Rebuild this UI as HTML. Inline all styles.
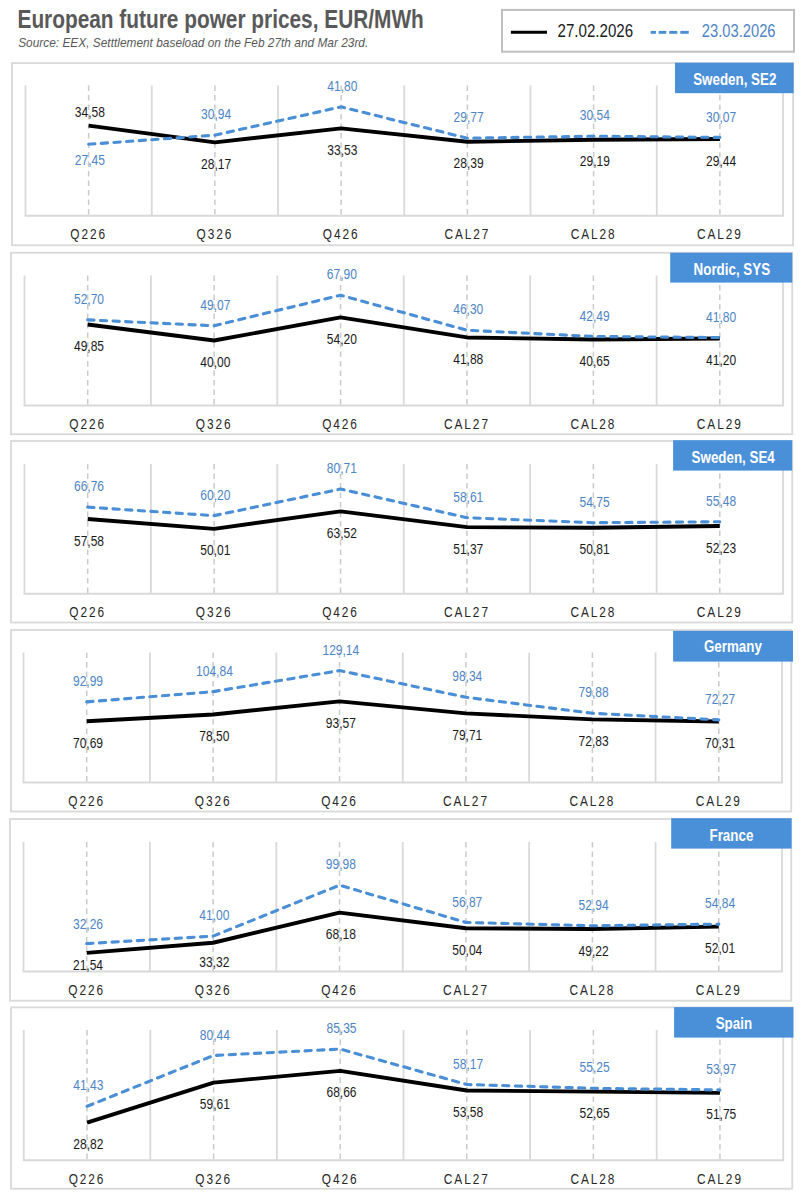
<!DOCTYPE html><html><head><meta charset="utf-8"><style>html,body{margin:0;padding:0;background:#fff;}svg{display:block;}</style></head><body>
<svg width="805" height="1200" viewBox="0 0 805 1200" font-family="Liberation Sans, sans-serif">
<text transform="translate(17.5,27.7) scale(0.834,1)" font-size="25" font-weight="bold" fill="#595959">European future power prices, EUR/MWh</text>
<text transform="translate(18.2,46.6) scale(0.983,1)" font-size="12.1" font-style="italic" fill="#595959">Source: EEX, Setttlement baseload on the Feb 27th and Mar 23rd.</text>
<rect x="502" y="9.9" width="292" height="41.8" fill="#fff" stroke="#bfbfbf" stroke-width="2"/>
<line x1="510.9" y1="32.3" x2="547" y2="32.3" stroke="#000" stroke-width="3"/>
<text transform="translate(557.5,36.7) scale(0.83,1)" font-size="18.2" fill="#1a1a1a">27.02.2026</text>
<rect x="650.7" y="30.9" width="5.2" height="2.9" fill="#4a8fd6"/>
<rect x="658.7" y="30.9" width="7.6" height="2.9" fill="#4a8fd6"/>
<rect x="669.3" y="30.9" width="8.0" height="2.9" fill="#4a8fd6"/>
<rect x="680.3" y="30.9" width="8.4" height="2.9" fill="#4a8fd6"/>
<text transform="translate(701.8,36.8) scale(0.81,1)" font-size="18.2" fill="#4d84c6">23.03.2026</text>
<rect x="12" y="63.1" width="781.10" height="182.15" fill="#fff" stroke="#d9d9d9" stroke-width="1.8"/>
<line x1="25.50" y1="85.5" x2="25.50" y2="215.75" stroke="#d9d9d9" stroke-width="1.8"/>
<line x1="151.75" y1="85.5" x2="151.75" y2="215.75" stroke="#d9d9d9" stroke-width="1.8"/>
<line x1="278.00" y1="85.5" x2="278.00" y2="215.75" stroke="#d9d9d9" stroke-width="1.8"/>
<line x1="404.25" y1="85.5" x2="404.25" y2="215.75" stroke="#d9d9d9" stroke-width="1.8"/>
<line x1="530.50" y1="85.5" x2="530.50" y2="215.75" stroke="#d9d9d9" stroke-width="1.8"/>
<line x1="656.75" y1="85.5" x2="656.75" y2="215.75" stroke="#d9d9d9" stroke-width="1.8"/>
<line x1="783.00" y1="85.5" x2="783.00" y2="215.75" stroke="#d9d9d9" stroke-width="1.8"/>
<line x1="24.60" y1="215.75" x2="783.90" y2="215.75" stroke="#d9d9d9" stroke-width="1.8"/>
<line x1="88.62" y1="85.5" x2="88.62" y2="215.75" stroke="#cbcbcb" stroke-width="1.5" stroke-dasharray="5.4,4.1"/>
<line x1="214.88" y1="85.5" x2="214.88" y2="215.75" stroke="#cbcbcb" stroke-width="1.5" stroke-dasharray="5.4,4.1"/>
<line x1="341.12" y1="85.5" x2="341.12" y2="215.75" stroke="#cbcbcb" stroke-width="1.5" stroke-dasharray="5.4,4.1"/>
<line x1="467.38" y1="85.5" x2="467.38" y2="215.75" stroke="#cbcbcb" stroke-width="1.5" stroke-dasharray="5.4,4.1"/>
<line x1="593.62" y1="85.5" x2="593.62" y2="215.75" stroke="#cbcbcb" stroke-width="1.5" stroke-dasharray="5.4,4.1"/>
<line x1="719.88" y1="85.5" x2="719.88" y2="215.75" stroke="#cbcbcb" stroke-width="1.5" stroke-dasharray="5.4,4.1"/>
<polyline points="88.62,125.67 214.88,142.37 341.12,128.40 467.38,141.79 593.62,139.71 719.88,139.06" fill="none" stroke="#000" stroke-width="3.9" stroke-linejoin="round"/>
<polyline points="88.62,144.24 214.88,135.15 341.12,106.86 467.38,138.20 593.62,136.19 719.88,137.42" fill="none" stroke="#4a8fd6" stroke-width="3.1" stroke-dasharray="6.3,6.36" stroke-linecap="round" stroke-linejoin="round"/>
<text transform="translate(89.92,116.70) scale(0.86,1)" text-anchor="middle" font-size="14" fill="#1a1a1a">34,58</text>
<text transform="translate(89.92,165.00) scale(0.86,1)" text-anchor="middle" font-size="14" fill="#4d84c6">27,45</text>
<text transform="translate(88.62,239.10) scale(0.79,1)" text-anchor="middle" font-size="15" letter-spacing="2.45" fill="#262626">Q226</text>
<text transform="translate(216.18,168.97) scale(0.86,1)" text-anchor="middle" font-size="14" fill="#1a1a1a">28,17</text>
<text transform="translate(216.18,119.35) scale(0.86,1)" text-anchor="middle" font-size="14" fill="#4d84c6">30,94</text>
<text transform="translate(214.88,239.10) scale(0.79,1)" text-anchor="middle" font-size="15" letter-spacing="2.45" fill="#262626">Q326</text>
<text transform="translate(342.43,155.00) scale(0.86,1)" text-anchor="middle" font-size="14" fill="#1a1a1a">33,53</text>
<text transform="translate(342.43,91.06) scale(0.86,1)" text-anchor="middle" font-size="14" fill="#4d84c6">41,80</text>
<text transform="translate(341.12,239.10) scale(0.79,1)" text-anchor="middle" font-size="15" letter-spacing="2.45" fill="#262626">Q426</text>
<text transform="translate(468.68,168.39) scale(0.86,1)" text-anchor="middle" font-size="14" fill="#1a1a1a">28,39</text>
<text transform="translate(468.68,122.40) scale(0.86,1)" text-anchor="middle" font-size="14" fill="#4d84c6">29,77</text>
<text transform="translate(467.38,239.10) scale(0.79,1)" text-anchor="middle" font-size="15" letter-spacing="2.45" fill="#262626">CAL27</text>
<text transform="translate(594.92,166.31) scale(0.86,1)" text-anchor="middle" font-size="14" fill="#1a1a1a">29,19</text>
<text transform="translate(594.92,120.39) scale(0.86,1)" text-anchor="middle" font-size="14" fill="#4d84c6">30,54</text>
<text transform="translate(593.62,239.10) scale(0.79,1)" text-anchor="middle" font-size="15" letter-spacing="2.45" fill="#262626">CAL28</text>
<text transform="translate(721.17,165.66) scale(0.86,1)" text-anchor="middle" font-size="14" fill="#1a1a1a">29,44</text>
<text transform="translate(721.17,121.62) scale(0.86,1)" text-anchor="middle" font-size="14" fill="#4d84c6">30,07</text>
<text transform="translate(719.88,239.10) scale(0.79,1)" text-anchor="middle" font-size="15" letter-spacing="2.45" fill="#262626">CAL29</text>
<rect x="675" y="62.7" width="118.70" height="30.50" fill="#4a90d9"/>
<text transform="translate(734.75,84.7) scale(0.815,1)" text-anchor="middle" font-size="16.4" font-weight="bold" fill="#fff">Sweden, SE2</text>
<rect x="11" y="252.75" width="781.25" height="181.50" fill="#fff" stroke="#d9d9d9" stroke-width="1.8"/>
<line x1="24.50" y1="275.5" x2="24.50" y2="405.5" stroke="#d9d9d9" stroke-width="1.8"/>
<line x1="150.92" y1="275.5" x2="150.92" y2="405.5" stroke="#d9d9d9" stroke-width="1.8"/>
<line x1="277.33" y1="275.5" x2="277.33" y2="405.5" stroke="#d9d9d9" stroke-width="1.8"/>
<line x1="403.75" y1="275.5" x2="403.75" y2="405.5" stroke="#d9d9d9" stroke-width="1.8"/>
<line x1="530.17" y1="275.5" x2="530.17" y2="405.5" stroke="#d9d9d9" stroke-width="1.8"/>
<line x1="656.58" y1="275.5" x2="656.58" y2="405.5" stroke="#d9d9d9" stroke-width="1.8"/>
<line x1="783.00" y1="275.5" x2="783.00" y2="405.5" stroke="#d9d9d9" stroke-width="1.8"/>
<line x1="23.60" y1="405.5" x2="783.90" y2="405.5" stroke="#d9d9d9" stroke-width="1.8"/>
<line x1="87.71" y1="275.5" x2="87.71" y2="405.5" stroke="#cbcbcb" stroke-width="1.5" stroke-dasharray="5.4,4.1"/>
<line x1="214.12" y1="275.5" x2="214.12" y2="405.5" stroke="#cbcbcb" stroke-width="1.5" stroke-dasharray="5.4,4.1"/>
<line x1="340.54" y1="275.5" x2="340.54" y2="405.5" stroke="#cbcbcb" stroke-width="1.5" stroke-dasharray="5.4,4.1"/>
<line x1="466.96" y1="275.5" x2="466.96" y2="405.5" stroke="#cbcbcb" stroke-width="1.5" stroke-dasharray="5.4,4.1"/>
<line x1="593.38" y1="275.5" x2="593.38" y2="405.5" stroke="#cbcbcb" stroke-width="1.5" stroke-dasharray="5.4,4.1"/>
<line x1="719.79" y1="275.5" x2="719.79" y2="405.5" stroke="#cbcbcb" stroke-width="1.5" stroke-dasharray="5.4,4.1"/>
<polyline points="87.71,324.49 214.12,340.50 340.54,317.43 466.96,337.44 593.38,339.44 719.79,338.55" fill="none" stroke="#000" stroke-width="3.9" stroke-linejoin="round"/>
<polyline points="87.71,319.86 214.12,325.76 340.54,295.16 466.96,330.26 593.38,336.45 719.79,337.57" fill="none" stroke="#4a8fd6" stroke-width="3.1" stroke-dasharray="6.3,6.36" stroke-linecap="round" stroke-linejoin="round"/>
<text transform="translate(89.01,351.09) scale(0.86,1)" text-anchor="middle" font-size="14" fill="#1a1a1a">49,85</text>
<text transform="translate(89.01,304.06) scale(0.86,1)" text-anchor="middle" font-size="14" fill="#4d84c6">52,70</text>
<text transform="translate(87.71,428.85) scale(0.79,1)" text-anchor="middle" font-size="15" letter-spacing="2.45" fill="#262626">Q226</text>
<text transform="translate(215.43,367.10) scale(0.86,1)" text-anchor="middle" font-size="14" fill="#1a1a1a">40,00</text>
<text transform="translate(215.43,309.96) scale(0.86,1)" text-anchor="middle" font-size="14" fill="#4d84c6">49,07</text>
<text transform="translate(214.12,428.85) scale(0.79,1)" text-anchor="middle" font-size="15" letter-spacing="2.45" fill="#262626">Q326</text>
<text transform="translate(341.84,344.03) scale(0.86,1)" text-anchor="middle" font-size="14" fill="#1a1a1a">54,20</text>
<text transform="translate(341.84,279.36) scale(0.86,1)" text-anchor="middle" font-size="14" fill="#4d84c6">67,90</text>
<text transform="translate(340.54,428.85) scale(0.79,1)" text-anchor="middle" font-size="15" letter-spacing="2.45" fill="#262626">Q426</text>
<text transform="translate(468.26,364.05) scale(0.86,1)" text-anchor="middle" font-size="14" fill="#1a1a1a">41,88</text>
<text transform="translate(468.26,314.46) scale(0.86,1)" text-anchor="middle" font-size="14" fill="#4d84c6">46,30</text>
<text transform="translate(466.96,428.85) scale(0.79,1)" text-anchor="middle" font-size="15" letter-spacing="2.45" fill="#262626">CAL27</text>
<text transform="translate(594.67,366.04) scale(0.86,1)" text-anchor="middle" font-size="14" fill="#1a1a1a">40,65</text>
<text transform="translate(594.67,320.65) scale(0.86,1)" text-anchor="middle" font-size="14" fill="#4d84c6">42,49</text>
<text transform="translate(593.38,428.85) scale(0.79,1)" text-anchor="middle" font-size="15" letter-spacing="2.45" fill="#262626">CAL28</text>
<text transform="translate(721.09,365.15) scale(0.86,1)" text-anchor="middle" font-size="14" fill="#1a1a1a">41,20</text>
<text transform="translate(721.09,321.77) scale(0.86,1)" text-anchor="middle" font-size="14" fill="#4d84c6">41,80</text>
<text transform="translate(719.79,428.85) scale(0.79,1)" text-anchor="middle" font-size="15" letter-spacing="2.45" fill="#262626">CAL29</text>
<rect x="670.2" y="252.7" width="122.10" height="29.90" fill="#4a90d9"/>
<text transform="translate(731.85,275.4) scale(0.815,1)" text-anchor="middle" font-size="16.4" font-weight="bold" fill="#fff">Nordic, SYS</text>
<rect x="11" y="441" width="781.25" height="181.50" fill="#fff" stroke="#d9d9d9" stroke-width="1.8"/>
<line x1="24.50" y1="464" x2="24.50" y2="593.75" stroke="#d9d9d9" stroke-width="1.8"/>
<line x1="150.92" y1="464" x2="150.92" y2="593.75" stroke="#d9d9d9" stroke-width="1.8"/>
<line x1="277.33" y1="464" x2="277.33" y2="593.75" stroke="#d9d9d9" stroke-width="1.8"/>
<line x1="403.75" y1="464" x2="403.75" y2="593.75" stroke="#d9d9d9" stroke-width="1.8"/>
<line x1="530.17" y1="464" x2="530.17" y2="593.75" stroke="#d9d9d9" stroke-width="1.8"/>
<line x1="656.58" y1="464" x2="656.58" y2="593.75" stroke="#d9d9d9" stroke-width="1.8"/>
<line x1="783.00" y1="464" x2="783.00" y2="593.75" stroke="#d9d9d9" stroke-width="1.8"/>
<line x1="23.60" y1="593.75" x2="783.90" y2="593.75" stroke="#d9d9d9" stroke-width="1.8"/>
<line x1="87.71" y1="464" x2="87.71" y2="593.75" stroke="#cbcbcb" stroke-width="1.5" stroke-dasharray="5.4,4.1"/>
<line x1="214.12" y1="464" x2="214.12" y2="593.75" stroke="#cbcbcb" stroke-width="1.5" stroke-dasharray="5.4,4.1"/>
<line x1="340.54" y1="464" x2="340.54" y2="593.75" stroke="#cbcbcb" stroke-width="1.5" stroke-dasharray="5.4,4.1"/>
<line x1="466.96" y1="464" x2="466.96" y2="593.75" stroke="#cbcbcb" stroke-width="1.5" stroke-dasharray="5.4,4.1"/>
<line x1="593.38" y1="464" x2="593.38" y2="593.75" stroke="#cbcbcb" stroke-width="1.5" stroke-dasharray="5.4,4.1"/>
<line x1="719.79" y1="464" x2="719.79" y2="593.75" stroke="#cbcbcb" stroke-width="1.5" stroke-dasharray="5.4,4.1"/>
<polyline points="87.71,519.04 214.12,528.86 340.54,511.33 466.96,527.10 593.38,527.82 719.79,525.98" fill="none" stroke="#000" stroke-width="3.9" stroke-linejoin="round"/>
<polyline points="87.71,507.13 214.12,515.64 340.54,489.03 466.96,517.70 593.38,522.71 719.79,521.76" fill="none" stroke="#4a8fd6" stroke-width="3.1" stroke-dasharray="6.3,6.36" stroke-linecap="round" stroke-linejoin="round"/>
<text transform="translate(89.01,545.64) scale(0.86,1)" text-anchor="middle" font-size="14" fill="#1a1a1a">57,58</text>
<text transform="translate(89.01,491.33) scale(0.86,1)" text-anchor="middle" font-size="14" fill="#4d84c6">66,76</text>
<text transform="translate(87.71,617.10) scale(0.79,1)" text-anchor="middle" font-size="15" letter-spacing="2.45" fill="#262626">Q226</text>
<text transform="translate(215.43,555.46) scale(0.86,1)" text-anchor="middle" font-size="14" fill="#1a1a1a">50,01</text>
<text transform="translate(215.43,499.84) scale(0.86,1)" text-anchor="middle" font-size="14" fill="#4d84c6">60,20</text>
<text transform="translate(214.12,617.10) scale(0.79,1)" text-anchor="middle" font-size="15" letter-spacing="2.45" fill="#262626">Q326</text>
<text transform="translate(341.84,537.93) scale(0.86,1)" text-anchor="middle" font-size="14" fill="#1a1a1a">63,52</text>
<text transform="translate(341.84,473.23) scale(0.86,1)" text-anchor="middle" font-size="14" fill="#4d84c6">80,71</text>
<text transform="translate(340.54,617.10) scale(0.79,1)" text-anchor="middle" font-size="15" letter-spacing="2.45" fill="#262626">Q426</text>
<text transform="translate(468.26,553.70) scale(0.86,1)" text-anchor="middle" font-size="14" fill="#1a1a1a">51,37</text>
<text transform="translate(468.26,501.90) scale(0.86,1)" text-anchor="middle" font-size="14" fill="#4d84c6">58,61</text>
<text transform="translate(466.96,617.10) scale(0.79,1)" text-anchor="middle" font-size="15" letter-spacing="2.45" fill="#262626">CAL27</text>
<text transform="translate(594.67,554.42) scale(0.86,1)" text-anchor="middle" font-size="14" fill="#1a1a1a">50,81</text>
<text transform="translate(594.67,506.91) scale(0.86,1)" text-anchor="middle" font-size="14" fill="#4d84c6">54,75</text>
<text transform="translate(593.38,617.10) scale(0.79,1)" text-anchor="middle" font-size="15" letter-spacing="2.45" fill="#262626">CAL28</text>
<text transform="translate(721.09,552.58) scale(0.86,1)" text-anchor="middle" font-size="14" fill="#1a1a1a">52,23</text>
<text transform="translate(721.09,505.96) scale(0.86,1)" text-anchor="middle" font-size="14" fill="#4d84c6">55,48</text>
<text transform="translate(719.79,617.10) scale(0.79,1)" text-anchor="middle" font-size="15" letter-spacing="2.45" fill="#262626">CAL29</text>
<rect x="673.1" y="440.2" width="119.10" height="30.40" fill="#4a90d9"/>
<text transform="translate(733.15,462.9) scale(0.815,1)" text-anchor="middle" font-size="16.4" font-weight="bold" fill="#fff">Sweden, SE4</text>
<rect x="11" y="630" width="780.25" height="181.50" fill="#fff" stroke="#d9d9d9" stroke-width="1.8"/>
<line x1="23.50" y1="652.5" x2="23.50" y2="782.5" stroke="#d9d9d9" stroke-width="1.8"/>
<line x1="149.92" y1="652.5" x2="149.92" y2="782.5" stroke="#d9d9d9" stroke-width="1.8"/>
<line x1="276.33" y1="652.5" x2="276.33" y2="782.5" stroke="#d9d9d9" stroke-width="1.8"/>
<line x1="402.75" y1="652.5" x2="402.75" y2="782.5" stroke="#d9d9d9" stroke-width="1.8"/>
<line x1="529.17" y1="652.5" x2="529.17" y2="782.5" stroke="#d9d9d9" stroke-width="1.8"/>
<line x1="655.58" y1="652.5" x2="655.58" y2="782.5" stroke="#d9d9d9" stroke-width="1.8"/>
<line x1="782.00" y1="652.5" x2="782.00" y2="782.5" stroke="#d9d9d9" stroke-width="1.8"/>
<line x1="22.60" y1="782.5" x2="782.90" y2="782.5" stroke="#d9d9d9" stroke-width="1.8"/>
<line x1="86.71" y1="652.5" x2="86.71" y2="782.5" stroke="#cbcbcb" stroke-width="1.5" stroke-dasharray="5.4,4.1"/>
<line x1="213.12" y1="652.5" x2="213.12" y2="782.5" stroke="#cbcbcb" stroke-width="1.5" stroke-dasharray="5.4,4.1"/>
<line x1="339.54" y1="652.5" x2="339.54" y2="782.5" stroke="#cbcbcb" stroke-width="1.5" stroke-dasharray="5.4,4.1"/>
<line x1="465.96" y1="652.5" x2="465.96" y2="782.5" stroke="#cbcbcb" stroke-width="1.5" stroke-dasharray="5.4,4.1"/>
<line x1="592.38" y1="652.5" x2="592.38" y2="782.5" stroke="#cbcbcb" stroke-width="1.5" stroke-dasharray="5.4,4.1"/>
<line x1="718.79" y1="652.5" x2="718.79" y2="782.5" stroke="#cbcbcb" stroke-width="1.5" stroke-dasharray="5.4,4.1"/>
<polyline points="86.71,721.24 213.12,714.47 339.54,701.41 465.96,713.42 592.38,719.38 718.79,721.56" fill="none" stroke="#000" stroke-width="3.9" stroke-linejoin="round"/>
<polyline points="86.71,701.91 213.12,691.64 339.54,670.58 465.96,697.27 592.38,713.27 718.79,719.87" fill="none" stroke="#4a8fd6" stroke-width="3.1" stroke-dasharray="6.3,6.36" stroke-linecap="round" stroke-linejoin="round"/>
<text transform="translate(88.01,747.84) scale(0.86,1)" text-anchor="middle" font-size="14" fill="#1a1a1a">70,69</text>
<text transform="translate(88.01,686.11) scale(0.86,1)" text-anchor="middle" font-size="14" fill="#4d84c6">92,99</text>
<text transform="translate(86.71,805.85) scale(0.79,1)" text-anchor="middle" font-size="15" letter-spacing="2.45" fill="#262626">Q226</text>
<text transform="translate(214.43,741.07) scale(0.86,1)" text-anchor="middle" font-size="14" fill="#1a1a1a">78,50</text>
<text transform="translate(214.43,675.84) scale(0.86,1)" text-anchor="middle" font-size="14" fill="#4d84c6">104,84</text>
<text transform="translate(213.12,805.85) scale(0.79,1)" text-anchor="middle" font-size="15" letter-spacing="2.45" fill="#262626">Q326</text>
<text transform="translate(340.84,728.01) scale(0.86,1)" text-anchor="middle" font-size="14" fill="#1a1a1a">93,57</text>
<text transform="translate(340.84,654.78) scale(0.86,1)" text-anchor="middle" font-size="14" fill="#4d84c6">129,14</text>
<text transform="translate(339.54,805.85) scale(0.79,1)" text-anchor="middle" font-size="15" letter-spacing="2.45" fill="#262626">Q426</text>
<text transform="translate(467.26,740.02) scale(0.86,1)" text-anchor="middle" font-size="14" fill="#1a1a1a">79,71</text>
<text transform="translate(467.26,681.47) scale(0.86,1)" text-anchor="middle" font-size="14" fill="#4d84c6">98,34</text>
<text transform="translate(465.96,805.85) scale(0.79,1)" text-anchor="middle" font-size="15" letter-spacing="2.45" fill="#262626">CAL27</text>
<text transform="translate(593.67,745.98) scale(0.86,1)" text-anchor="middle" font-size="14" fill="#1a1a1a">72,83</text>
<text transform="translate(593.67,697.47) scale(0.86,1)" text-anchor="middle" font-size="14" fill="#4d84c6">79,88</text>
<text transform="translate(592.38,805.85) scale(0.79,1)" text-anchor="middle" font-size="15" letter-spacing="2.45" fill="#262626">CAL28</text>
<text transform="translate(720.09,748.16) scale(0.86,1)" text-anchor="middle" font-size="14" fill="#1a1a1a">70,31</text>
<text transform="translate(720.09,704.07) scale(0.86,1)" text-anchor="middle" font-size="14" fill="#4d84c6">72,27</text>
<text transform="translate(718.79,805.85) scale(0.79,1)" text-anchor="middle" font-size="15" letter-spacing="2.45" fill="#262626">CAL29</text>
<rect x="673.1" y="630.8" width="119.90" height="30.80" fill="#4a90d9"/>
<text transform="translate(732.90,652.4) scale(0.815,1)" text-anchor="middle" font-size="16.4" font-weight="bold" fill="#fff">Germany</text>
<rect x="10" y="819" width="781.25" height="181.70" fill="#fff" stroke="#d9d9d9" stroke-width="1.8"/>
<line x1="23.50" y1="842" x2="23.50" y2="971.5" stroke="#d9d9d9" stroke-width="1.8"/>
<line x1="149.92" y1="842" x2="149.92" y2="971.5" stroke="#d9d9d9" stroke-width="1.8"/>
<line x1="276.33" y1="842" x2="276.33" y2="971.5" stroke="#d9d9d9" stroke-width="1.8"/>
<line x1="402.75" y1="842" x2="402.75" y2="971.5" stroke="#d9d9d9" stroke-width="1.8"/>
<line x1="529.17" y1="842" x2="529.17" y2="971.5" stroke="#d9d9d9" stroke-width="1.8"/>
<line x1="655.58" y1="842" x2="655.58" y2="971.5" stroke="#d9d9d9" stroke-width="1.8"/>
<line x1="782.00" y1="842" x2="782.00" y2="971.5" stroke="#d9d9d9" stroke-width="1.8"/>
<line x1="22.60" y1="971.5" x2="782.90" y2="971.5" stroke="#d9d9d9" stroke-width="1.8"/>
<line x1="86.71" y1="842" x2="86.71" y2="971.5" stroke="#cbcbcb" stroke-width="1.5" stroke-dasharray="5.4,4.1"/>
<line x1="213.12" y1="842" x2="213.12" y2="971.5" stroke="#cbcbcb" stroke-width="1.5" stroke-dasharray="5.4,4.1"/>
<line x1="339.54" y1="842" x2="339.54" y2="971.5" stroke="#cbcbcb" stroke-width="1.5" stroke-dasharray="5.4,4.1"/>
<line x1="465.96" y1="842" x2="465.96" y2="971.5" stroke="#cbcbcb" stroke-width="1.5" stroke-dasharray="5.4,4.1"/>
<line x1="592.38" y1="842" x2="592.38" y2="971.5" stroke="#cbcbcb" stroke-width="1.5" stroke-dasharray="5.4,4.1"/>
<line x1="718.79" y1="842" x2="718.79" y2="971.5" stroke="#cbcbcb" stroke-width="1.5" stroke-dasharray="5.4,4.1"/>
<polyline points="86.71,952.90 213.12,942.73 339.54,912.64 465.96,928.30 592.38,929.01 718.79,926.60" fill="none" stroke="#000" stroke-width="3.9" stroke-linejoin="round"/>
<polyline points="86.71,943.65 213.12,936.10 339.54,885.18 465.96,922.40 592.38,925.80 718.79,924.15" fill="none" stroke="#4a8fd6" stroke-width="3.1" stroke-dasharray="6.3,6.36" stroke-linecap="round" stroke-linejoin="round"/>
<text transform="translate(88.01,970.40) scale(0.86,1)" text-anchor="middle" font-size="14" fill="#1a1a1a">21,54</text>
<text transform="translate(88.01,928.70) scale(0.86,1)" text-anchor="middle" font-size="14" fill="#4d84c6">32,26</text>
<text transform="translate(86.71,994.85) scale(0.79,1)" text-anchor="middle" font-size="15" letter-spacing="2.45" fill="#262626">Q226</text>
<text transform="translate(214.43,966.50) scale(0.86,1)" text-anchor="middle" font-size="14" fill="#1a1a1a">33,32</text>
<text transform="translate(214.43,920.30) scale(0.86,1)" text-anchor="middle" font-size="14" fill="#4d84c6">41,00</text>
<text transform="translate(213.12,994.85) scale(0.79,1)" text-anchor="middle" font-size="15" letter-spacing="2.45" fill="#262626">Q326</text>
<text transform="translate(340.84,939.24) scale(0.86,1)" text-anchor="middle" font-size="14" fill="#1a1a1a">68,18</text>
<text transform="translate(340.84,869.38) scale(0.86,1)" text-anchor="middle" font-size="14" fill="#4d84c6">99,98</text>
<text transform="translate(339.54,994.85) scale(0.79,1)" text-anchor="middle" font-size="15" letter-spacing="2.45" fill="#262626">Q426</text>
<text transform="translate(467.26,954.90) scale(0.86,1)" text-anchor="middle" font-size="14" fill="#1a1a1a">50,04</text>
<text transform="translate(467.26,906.60) scale(0.86,1)" text-anchor="middle" font-size="14" fill="#4d84c6">56,87</text>
<text transform="translate(465.96,994.85) scale(0.79,1)" text-anchor="middle" font-size="15" letter-spacing="2.45" fill="#262626">CAL27</text>
<text transform="translate(593.67,955.61) scale(0.86,1)" text-anchor="middle" font-size="14" fill="#1a1a1a">49,22</text>
<text transform="translate(593.67,910.00) scale(0.86,1)" text-anchor="middle" font-size="14" fill="#4d84c6">52,94</text>
<text transform="translate(592.38,994.85) scale(0.79,1)" text-anchor="middle" font-size="15" letter-spacing="2.45" fill="#262626">CAL28</text>
<text transform="translate(720.09,953.20) scale(0.86,1)" text-anchor="middle" font-size="14" fill="#1a1a1a">52,01</text>
<text transform="translate(720.09,908.35) scale(0.86,1)" text-anchor="middle" font-size="14" fill="#4d84c6">54,84</text>
<text transform="translate(718.79,994.85) scale(0.79,1)" text-anchor="middle" font-size="15" letter-spacing="2.45" fill="#262626">CAL29</text>
<rect x="671.2" y="818.2" width="120.40" height="30.40" fill="#4a90d9"/>
<text transform="translate(731.40,840.9) scale(0.815,1)" text-anchor="middle" font-size="16.4" font-weight="bold" fill="#fff">France</text>
<rect x="11" y="1007.4" width="781.25" height="181.35" fill="#fff" stroke="#d9d9d9" stroke-width="1.8"/>
<line x1="23.75" y1="1030" x2="23.75" y2="1160.25" stroke="#d9d9d9" stroke-width="1.8"/>
<line x1="150.33" y1="1030" x2="150.33" y2="1160.25" stroke="#d9d9d9" stroke-width="1.8"/>
<line x1="276.92" y1="1030" x2="276.92" y2="1160.25" stroke="#d9d9d9" stroke-width="1.8"/>
<line x1="403.50" y1="1030" x2="403.50" y2="1160.25" stroke="#d9d9d9" stroke-width="1.8"/>
<line x1="530.08" y1="1030" x2="530.08" y2="1160.25" stroke="#d9d9d9" stroke-width="1.8"/>
<line x1="656.67" y1="1030" x2="656.67" y2="1160.25" stroke="#d9d9d9" stroke-width="1.8"/>
<line x1="783.25" y1="1030" x2="783.25" y2="1160.25" stroke="#d9d9d9" stroke-width="1.8"/>
<line x1="22.85" y1="1160.25" x2="784.15" y2="1160.25" stroke="#d9d9d9" stroke-width="1.8"/>
<line x1="87.04" y1="1030" x2="87.04" y2="1160.25" stroke="#cbcbcb" stroke-width="1.5" stroke-dasharray="5.4,4.1"/>
<line x1="213.62" y1="1030" x2="213.62" y2="1160.25" stroke="#cbcbcb" stroke-width="1.5" stroke-dasharray="5.4,4.1"/>
<line x1="340.21" y1="1030" x2="340.21" y2="1160.25" stroke="#cbcbcb" stroke-width="1.5" stroke-dasharray="5.4,4.1"/>
<line x1="466.79" y1="1030" x2="466.79" y2="1160.25" stroke="#cbcbcb" stroke-width="1.5" stroke-dasharray="5.4,4.1"/>
<line x1="593.38" y1="1030" x2="593.38" y2="1160.25" stroke="#cbcbcb" stroke-width="1.5" stroke-dasharray="5.4,4.1"/>
<line x1="719.96" y1="1030" x2="719.96" y2="1160.25" stroke="#cbcbcb" stroke-width="1.5" stroke-dasharray="5.4,4.1"/>
<polyline points="87.04,1122.71 213.62,1082.61 340.21,1070.82 466.79,1090.46 593.38,1091.67 719.96,1092.85" fill="none" stroke="#000" stroke-width="3.9" stroke-linejoin="round"/>
<polyline points="87.04,1106.29 213.62,1055.48 340.21,1049.08 466.79,1084.48 593.38,1088.29 719.96,1089.95" fill="none" stroke="#4a8fd6" stroke-width="3.1" stroke-dasharray="6.3,6.36" stroke-linecap="round" stroke-linejoin="round"/>
<text transform="translate(88.34,1149.31) scale(0.86,1)" text-anchor="middle" font-size="14" fill="#1a1a1a">28,82</text>
<text transform="translate(88.34,1090.49) scale(0.86,1)" text-anchor="middle" font-size="14" fill="#4d84c6">41,43</text>
<text transform="translate(87.04,1183.60) scale(0.79,1)" text-anchor="middle" font-size="15" letter-spacing="2.45" fill="#262626">Q226</text>
<text transform="translate(214.93,1109.21) scale(0.86,1)" text-anchor="middle" font-size="14" fill="#1a1a1a">59,61</text>
<text transform="translate(214.93,1039.68) scale(0.86,1)" text-anchor="middle" font-size="14" fill="#4d84c6">80,44</text>
<text transform="translate(213.62,1183.60) scale(0.79,1)" text-anchor="middle" font-size="15" letter-spacing="2.45" fill="#262626">Q326</text>
<text transform="translate(341.51,1097.42) scale(0.86,1)" text-anchor="middle" font-size="14" fill="#1a1a1a">68,66</text>
<text transform="translate(341.51,1033.28) scale(0.86,1)" text-anchor="middle" font-size="14" fill="#4d84c6">85,35</text>
<text transform="translate(340.21,1183.60) scale(0.79,1)" text-anchor="middle" font-size="15" letter-spacing="2.45" fill="#262626">Q426</text>
<text transform="translate(468.09,1117.06) scale(0.86,1)" text-anchor="middle" font-size="14" fill="#1a1a1a">53,58</text>
<text transform="translate(468.09,1068.68) scale(0.86,1)" text-anchor="middle" font-size="14" fill="#4d84c6">58,17</text>
<text transform="translate(466.79,1183.60) scale(0.79,1)" text-anchor="middle" font-size="15" letter-spacing="2.45" fill="#262626">CAL27</text>
<text transform="translate(594.67,1118.27) scale(0.86,1)" text-anchor="middle" font-size="14" fill="#1a1a1a">52,65</text>
<text transform="translate(594.67,1072.49) scale(0.86,1)" text-anchor="middle" font-size="14" fill="#4d84c6">55,25</text>
<text transform="translate(593.38,1183.60) scale(0.79,1)" text-anchor="middle" font-size="15" letter-spacing="2.45" fill="#262626">CAL28</text>
<text transform="translate(721.26,1119.45) scale(0.86,1)" text-anchor="middle" font-size="14" fill="#1a1a1a">51,75</text>
<text transform="translate(721.26,1074.15) scale(0.86,1)" text-anchor="middle" font-size="14" fill="#4d84c6">53,97</text>
<text transform="translate(719.96,1183.60) scale(0.79,1)" text-anchor="middle" font-size="15" letter-spacing="2.45" fill="#262626">CAL29</text>
<rect x="674.1" y="1007.1" width="119.40" height="30.50" fill="#4a90d9"/>
<text transform="translate(733.90,1028.9) scale(0.815,1)" text-anchor="middle" font-size="16.4" font-weight="bold" fill="#fff">Spain</text>
</svg></body></html>
